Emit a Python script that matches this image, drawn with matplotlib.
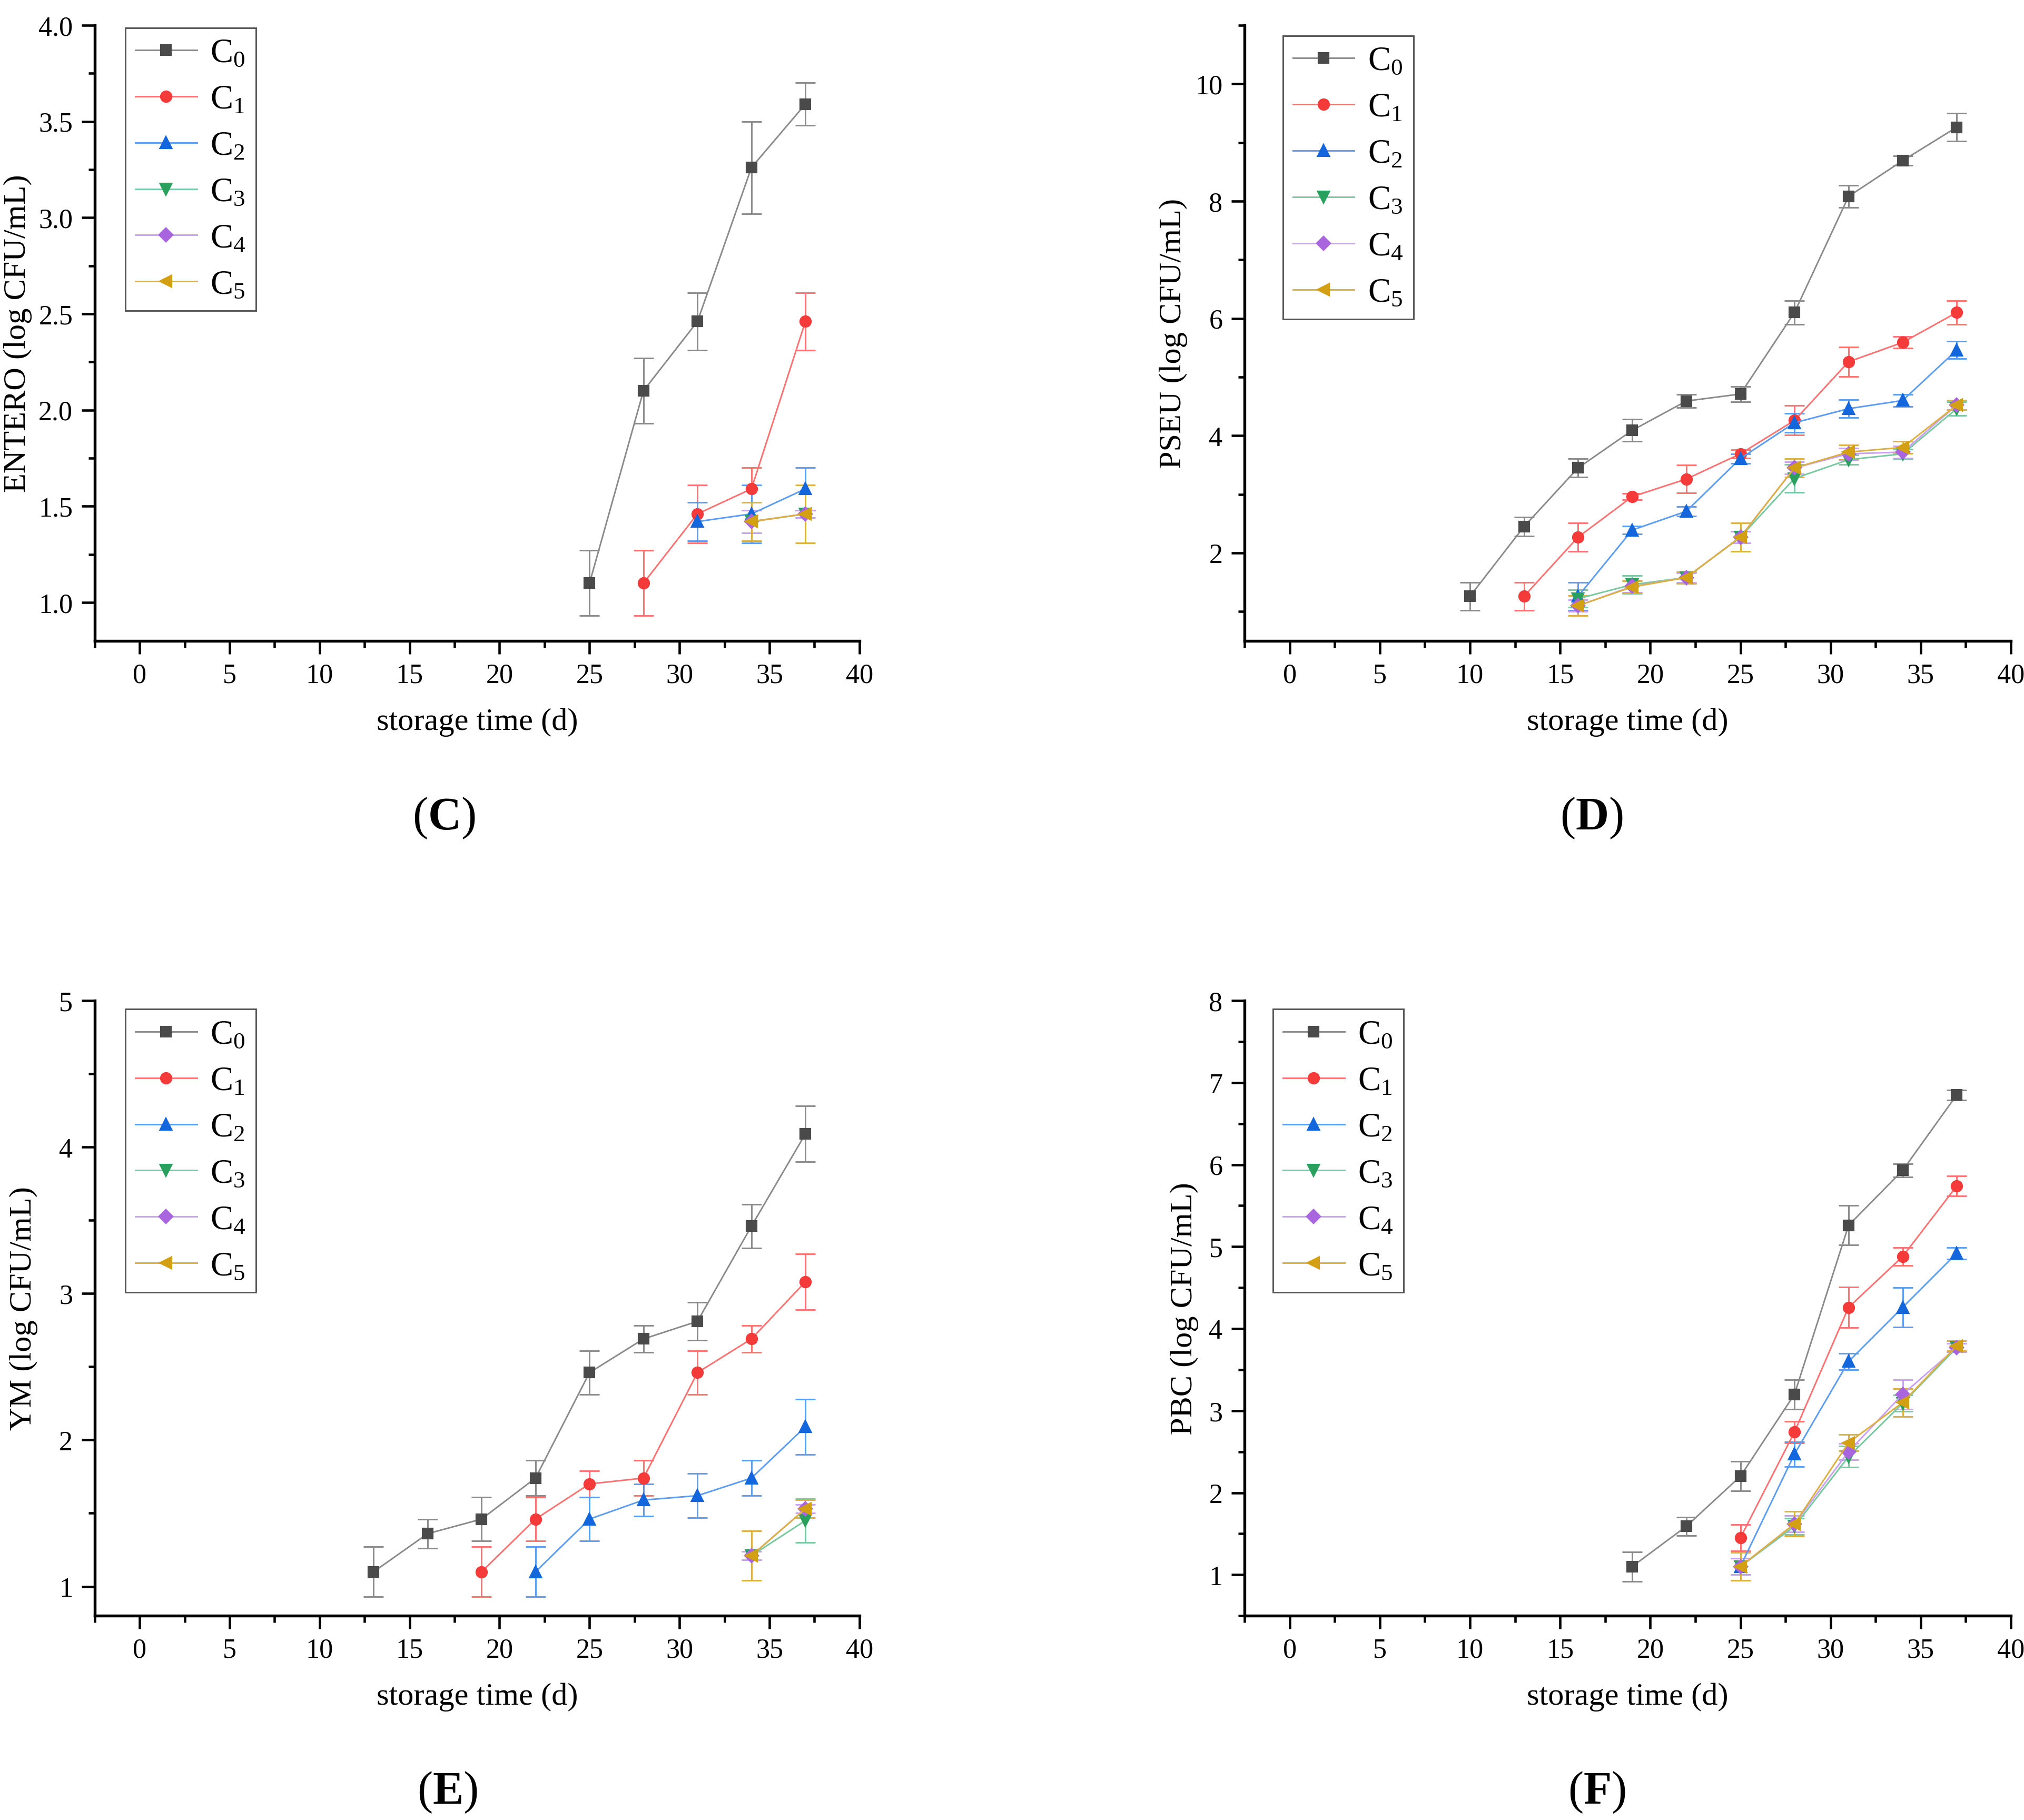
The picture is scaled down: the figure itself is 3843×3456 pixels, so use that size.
import numpy as np
import matplotlib
matplotlib.use("Agg")
from matplotlib import pyplot as plt
from matplotlib.ticker import MultipleLocator, FormatStrFormatter

plt.rcParams["font.family"] = ["Liberation Serif", "DejaVu Serif"]
plt.rcParams["mathtext.fontset"] = "custom"
plt.rcParams["mathtext.rm"] = "Liberation Serif"
plt.rcParams["mathtext.it"] = "Liberation Serif:italic"
plt.rcParams["mathtext.bf"] = "Liberation Serif:bold"

nan = np.nan

series_names = [r"$\mathrm{C}_{0}$", r"$\mathrm{C}_{1}$", r"$\mathrm{C}_{2}$",
                r"$\mathrm{C}_{3}$", r"$\mathrm{C}_{4}$", r"$\mathrm{C}_{5}$"]

# (C) ENTERO
days_c = [25, 28, 31, 34, 37]
entero_mean = [
    [1.10, 2.10, 2.46, 3.26, 3.59],
    [nan, 1.10, 1.46, 1.59, 2.46],
    [nan, nan, 1.42, 1.46, 1.59],
    [nan, nan, nan, 1.42, 1.46],
    [nan, nan, nan, 1.42, 1.46],
    [nan, nan, nan, 1.42, 1.46],
]
entero_sd = [
    [0.17, 0.17, 0.15, 0.24, 0.11],
    [nan, 0.17, 0.15, 0.11, 0.15],
    [nan, nan, 0.10, 0.15, 0.11],
    [nan, nan, nan, 0.06, 0.02],
    [nan, nan, nan, 0.06, 0.02],
    [nan, nan, nan, 0.10, 0.15],
]

# (D) PSEU
days_d = [10, 13, 16, 19, 22, 25, 28, 31, 34, 37]
pseu_mean = [
    [1.26, 2.45, 3.45, 4.09, 4.59, 4.71, 6.10, 8.08, 8.69, 9.26],
    [nan, 1.26, 2.27, 2.96, 3.26, 3.69, 4.26, 5.26, 5.59, 6.10],
    [nan, nan, 1.26, 2.39, 2.71, 3.61, 4.22, 4.46, 4.60, 5.46],
    [nan, nan, 1.22, 1.46, 1.58, 2.27, 3.27, 3.59, 3.69, 4.46],
    [nan, nan, 1.10, 1.43, 1.58, 2.27, 3.45, 3.69, 3.72, 4.52],
    [nan, nan, 1.10, 1.42, 1.58, 2.27, 3.45, 3.72, 3.80, 4.52],
]
pseu_sd = [
    [0.24, 0.16, 0.16, 0.19, 0.11, 0.13, 0.20, 0.19, 0.08, 0.24],
    [nan, 0.24, 0.24, 0.05, 0.24, 0.07, 0.25, 0.25, 0.10, 0.20],
    [nan, nan, 0.24, 0.07, 0.08, 0.08, 0.16, 0.15, 0.10, 0.15],
    [nan, nan, 0.15, 0.15, 0.10, 0.10, 0.24, 0.08, 0.08, 0.12],
    [nan, nan, 0.10, 0.10, 0.08, 0.10, 0.10, 0.10, 0.10, 0.08],
    [nan, nan, 0.17, 0.10, 0.10, 0.24, 0.16, 0.12, 0.10, 0.08],
]

# (E) YM
days_e = [13, 16, 19, 22, 25, 28, 31, 34, 37]
ym_mean = [
    [1.10, 1.36, 1.46, 1.74, 2.46, 2.69, 2.81, 3.46, 4.09],
    [nan, nan, 1.10, 1.46, 1.70, 1.74, 2.46, 2.69, 3.08],
    [nan, nan, nan, 1.10, 1.46, 1.59, 1.62, 1.74, 2.09],
    [nan, nan, nan, nan, nan, nan, nan, 1.21, 1.45],
    [nan, nan, nan, nan, nan, nan, nan, 1.21, 1.53],
    [nan, nan, nan, nan, nan, nan, nan, 1.21, 1.53],
]
ym_sd = [
    [0.17, 0.10, 0.15, 0.12, 0.15, 0.09, 0.13, 0.15, 0.19],
    [nan, nan, 0.17, 0.15, 0.09, 0.12, 0.15, 0.09, 0.19],
    [nan, nan, nan, 0.17, 0.15, 0.11, 0.15, 0.12, 0.19],
    [nan, nan, nan, nan, nan, nan, nan, 0.03, 0.15],
    [nan, nan, nan, nan, nan, nan, nan, 0.03, 0.03],
    [nan, nan, nan, nan, nan, nan, nan, 0.17, 0.06],
]

# (F) PBC
days_f = [19, 22, 25, 28, 31, 34, 37]
pbc_mean = [
    [1.10, 1.59, 2.20, 3.20, 5.26, 5.93, 6.85],
    [nan, nan, 1.45, 2.74, 4.26, 4.88, 5.74],
    [nan, nan, 1.10, 2.47, 3.60, 4.26, 4.92],
    [nan, nan, 1.10, 1.59, 2.44, 3.09, 3.77],
    [nan, nan, 1.10, 1.62, 2.50, 3.20, 3.77],
    [nan, nan, 1.10, 1.62, 2.61, 3.10, 3.79],
]
pbc_sd = [
    [0.18, 0.11, 0.18, 0.18, 0.24, 0.08, 0.06],
    [nan, nan, 0.16, 0.13, 0.25, 0.11, 0.12],
    [nan, nan, 0.10, 0.15, 0.10, 0.24, 0.07],
    [nan, nan, 0.10, 0.10, 0.13, 0.10, 0.05],
    [nan, nan, 0.10, 0.10, 0.10, 0.18, 0.05],
    [nan, nan, 0.17, 0.15, 0.10, 0.17, 0.06],
]

marker_colors = ["#4a4a4a", "#f53a3a", "#1466dc", "#2aa05e", "#a865de", "#d4a013"]
line_colors = ["#8a8a8a", "#ff7070", "#5c9cf0", "#78c9a0", "#c9a0f2", "#dcb040"]
markers = ["s", "o", "^", "v", "D", "<"]
msizes = [4.2, 4.6, 4.6, 4.6, 4.0, 4.6]


def draw_panel(ax, days, means, sds, ylabel, ylim, ymajor, legend_xy):
    for i in range(6):
        m = np.array(means[i], dtype=float)
        s = np.array(sds[i], dtype=float)
        ax.errorbar(days, m, yerr=s, fmt="none", ecolor=line_colors[i],
                    elinewidth=0.7, capsize=4.5, capthick=0.7, zorder=2 + i * 0.1)
        ax.plot(days, m, marker=markers[i], color=line_colors[i], lw=0.7,
                markerfacecolor=marker_colors[i], markeredgecolor=marker_colors[i],
                markersize=msizes[i], label=series_names[i], zorder=3 + i * 0.1)

    ax.set_xlim(-2.5, 40)
    ax.set_ylim(*ylim)
    ax.xaxis.set_major_locator(MultipleLocator(5))
    ax.xaxis.set_minor_locator(MultipleLocator(2.5))
    ax.yaxis.set_major_locator(MultipleLocator(ymajor))
    ax.yaxis.set_minor_locator(MultipleLocator(ymajor / 2))
    if ymajor == 0.5:
        ax.yaxis.set_major_formatter(FormatStrFormatter("%.1f"))

    for side in ["top", "right"]:
        ax.spines[side].set_visible(False)
    for side in ["left", "bottom"]:
        ax.spines[side].set_linewidth(1.3)
    ax.tick_params(which="major", direction="out", length=6, width=1.1, labelsize=12.5, pad=4)
    ax.tick_params(which="minor", direction="out", length=3, width=1.1)

    ax.set_xlabel("storage time (d)", fontsize=14.5)
    ax.xaxis.set_label_coords(0.5, -0.108)
    ax.set_ylabel(ylabel, fontsize=14.5)
    ax.yaxis.set_label_coords(legend_xy[2], 0.5)

    leg = ax.legend(loc="upper left", bbox_to_anchor=(legend_xy[0], legend_xy[1]),
                    borderaxespad=0, fancybox=False, framealpha=1, fontsize=15.5,
                    handlelength=1.8, handletextpad=0.4, labelspacing=0.44,
                    borderpad=0.3)
    leg.get_frame().set_edgecolor("#555555")
    leg.get_frame().set_linewidth(0.7)


fig = plt.figure(figsize=(12.81, 11.523), dpi=300)

ax_c = fig.add_axes([0.0468, 0.6477, 0.3778, 0.3382])
ax_d = fig.add_axes([0.6149, 0.6477, 0.3786, 0.3382])
ax_e = fig.add_axes([0.0468, 0.1122, 0.3778, 0.3379])
ax_f = fig.add_axes([0.6149, 0.1122, 0.3786, 0.3379])

draw_panel(ax_c, days_c, entero_mean, entero_sd, "ENTERO (log CFU/mL)",
           (0.8, 4.0), 0.5, (0.040, 0.996, -0.082))
draw_panel(ax_d, days_d, pseu_mean, pseu_sd, "PSEU (log CFU/mL)",
           (0.5, 11.0), 2, (0.050, 0.983, -0.074))
draw_panel(ax_e, days_e, ym_mean, ym_sd, "YM (log CFU/mL)",
           (0.8, 5.0), 1, (0.040, 0.986, -0.074))
draw_panel(ax_f, days_f, pbc_mean, pbc_sd, "PBC (log CFU/mL)",
           (0.5, 8.0), 1, (0.037, 0.986, -0.060))

panel_labels = ["C", "D", "E", "F"]
panel_label_xy = [(0.2194, 0.5505), (0.7864, 0.5505), (0.2210, 0.0155), (0.7890, 0.0155)]
for lab, (px, py) in zip(panel_labels, panel_label_xy):
    fig.text(px, py, r"($\mathbf{" + lab + r"}$)", fontsize=21, ha="center", va="center")

fig.savefig("out.png", dpi=300)
